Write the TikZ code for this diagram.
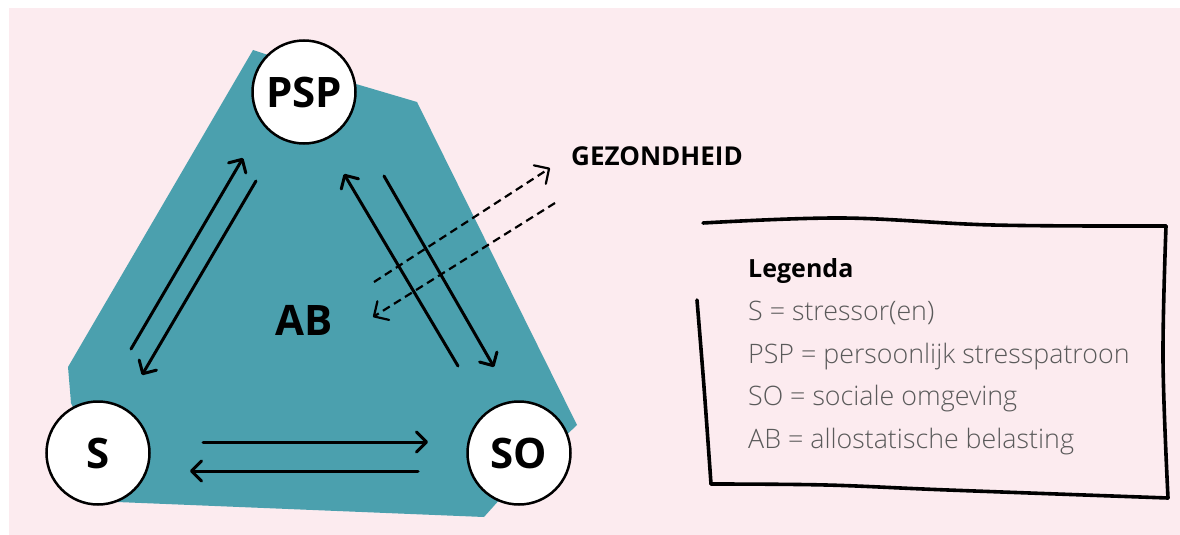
\documentclass[tikz,border=0pt]{standalone}
\usepackage{fontspec}
\setmainfont{Open Sans}
\newfontfamily\lightfont{Open Sans Light}
\usetikzlibrary{arrows.meta}
\definecolor{bgpink}{RGB}{252,235,239}
\definecolor{tealfill}{RGB}{75,160,174}
\definecolor{legtext}{RGB}{90,90,90}
\begin{document}
\begin{tikzpicture}[x=1pt,y=-1pt,
  nodecirc/.style={circle,draw=black,line width=2.5pt,fill=white,minimum size=103pt,inner sep=0pt,font=\fontsize{42}{48}\selectfont\bfseries},
  solidarrow/.style={line width=3pt,line cap=round,-{Straight Barb[round,length=10pt,width=20pt]}},
  dasharrow/.style={line width=2.2pt,dash pattern=on 8pt off 5pt,-{Straight Barb[round,length=11pt,width=22pt]}},
  legtxt/.style={anchor=base west,inner sep=0pt,text=legtext,font=\lightfont\fontsize{26.8}{30}\selectfont},
  handline/.style={line width=3.6pt,line cap=round,line join=round}]
\useasboundingbox (0,0) rectangle (1180,535);
\fill[white] (0,0) rectangle (1180,535);
\fill[bgpink] (9,8) rectangle (1180,535);
% allostatic load area
\fill[tealfill] (253,50) -- (356,84) -- (417,102) -- (577,425) -- (540,460) -- (501,498) -- (484,517) -- (117,502) -- (71,403) -- (68,367) -- cycle;
% nodes
\node[nodecirc] (psp) at (304,92) {PSP};
\node[nodecirc] (s) at (98,453) {S};
\node[nodecirc] (so) at (519,453) {SO};
\node[inner sep=0pt,font=\fontsize{42}{48}\selectfont\bfseries] (ab) at (304,320) {AB};
\node[anchor=base west,inner sep=0pt,font=\fontsize{26}{30}\selectfont\bfseries] (gez) at (571,165) {GEZONDHEID};
% arrow end points
\coordinate (a1s) at (131,349); \coordinate (a1e) at (243,158);
\coordinate (a2s) at (256,181); \coordinate (a2e) at (142,375);
\coordinate (a3s) at (458,366); \coordinate (a3e) at (344,174);
\coordinate (a4s) at (384,176); \coordinate (a4e) at (494,367);
\coordinate (a5s) at (203,442); \coordinate (a5e) at (428,442);
\coordinate (a6s) at (418,471); \coordinate (a6e) at (190,471);
\coordinate (d1s) at (374,282); \coordinate (d1e) at (550,168);
\coordinate (d2s) at (555,203); \coordinate (d2e) at (373,317);
\draw[solidarrow] (a1s) -- (a1e);
\draw[solidarrow] (a2s) -- (a2e);
\draw[solidarrow] (a3s) -- (a3e);
\draw[solidarrow] (a4s) -- (a4e);
\draw[solidarrow] (a5s) -- (a5e);
\draw[solidarrow] (a6s) -- (a6e);
\draw[dasharrow] (d1s) -- (d1e);
\draw[dasharrow] (d2s) -- (d2e);
% legend box (hand drawn)
\draw[handline] plot[smooth,tension=0.6] coordinates {(697,300) (704,387) (711,484)};
\draw[handline] plot[smooth,tension=0.6] coordinates {(711,484) (826,485) (948,490) (1168,498)};
\draw[handline] plot[smooth,tension=0.6] coordinates {(1168,498) (1163,360) (1166,226)};
\draw[handline] plot[smooth,tension=0.6] coordinates {(1166,226) (993,225) (842,218) (703,223)};
% legend text
\node[anchor=base west,inner sep=0pt,font=\fontsize{25}{30}\selectfont\bfseries] (leg) at (748,277) {Legenda};
\node[legtxt] (l1) at (748,320) {S = stressor(en)};
\node[legtxt] (l2) at (748,363) {PSP = persoonlijk stresspatroon};
\node[legtxt] (l3) at (748,405) {SO = sociale omgeving};
\node[legtxt] (l4) at (748,448) {AB = allostatische belasting};
\end{tikzpicture}
\end{document}
